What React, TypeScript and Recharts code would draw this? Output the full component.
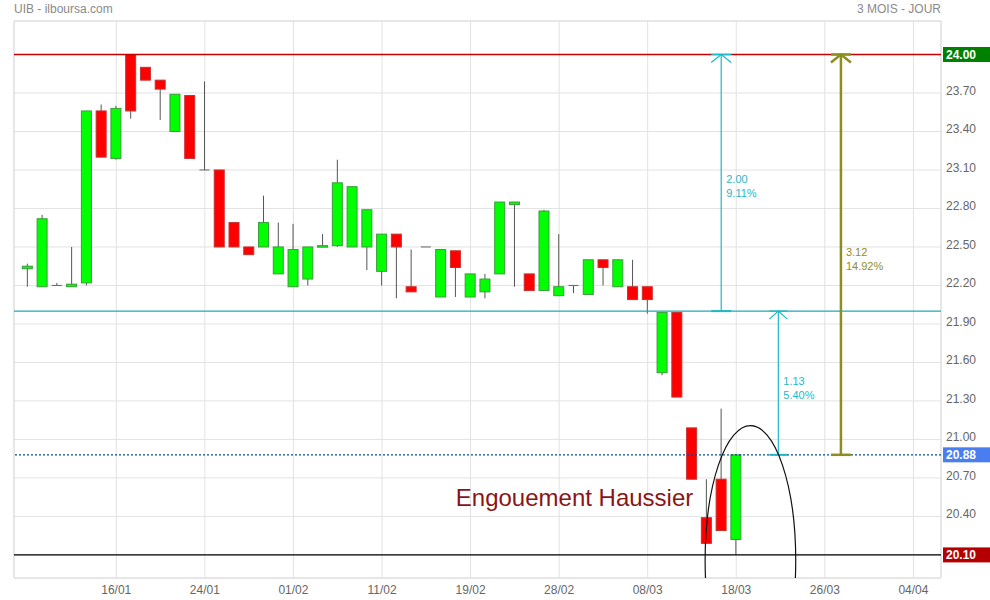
import React from 'react';
import {
  ComposedChart, Bar, XAxis, YAxis, CartesianGrid, ReferenceLine, ReferenceDot, ReferenceArea,
} from 'recharts';

// ---- data ----
const opens = [22.33, 22.19, 22.20, 22.19, 22.22, 23.56, 23.19, 24.00, 23.90, 23.80, 23.40, 23.68, 23.10, 23.10, 22.69, 22.50, 22.50, 22.29, 22.19, 22.25, 22.50, 22.51, 22.50, 22.50, 22.31, 22.60, 22.19, 22.50, 22.11, 22.47, 22.11, 22.15, 22.29, 22.83, 22.29, 22.16, 22.12, 22.20, 22.13, 22.40, 22.19, 22.19, 22.19, 21.52, 21.99, 21.09, 20.39, 20.69, 20.22];
const highs = [22.37, 22.75, 22.22, 22.50, 23.56, 23.61, 23.60, 24.00, 23.90, 23.80, 23.69, 23.68, 23.79, 23.10, 22.69, 22.50, 22.90, 22.69, 22.68, 22.50, 22.60, 23.18, 22.97, 22.79, 22.60, 22.60, 22.48, 22.50, 22.48, 22.47, 22.29, 22.29, 22.85, 22.85, 22.29, 22.79, 22.60, 22.20, 22.40, 22.40, 22.40, 22.40, 22.19, 21.99, 21.99, 21.09, 20.69, 21.24, 20.88];
const lows = [22.19, 22.19, 22.20, 22.19, 22.20, 23.20, 23.18, 23.50, 23.80, 23.49, 23.40, 23.19, 23.10, 22.50, 22.50, 22.44, 22.50, 22.29, 22.19, 22.20, 22.50, 22.50, 22.50, 22.32, 22.20, 22.10, 22.15, 22.50, 22.11, 22.11, 22.11, 22.10, 22.29, 22.19, 22.16, 22.16, 22.12, 22.14, 22.13, 22.20, 22.19, 22.09, 21.98, 21.50, 21.33, 20.69, 20.19, 20.29, 20.10];
const closes = [22.35, 22.72, 22.20, 22.21, 23.56, 23.20, 23.58, 23.56, 23.80, 23.73, 23.69, 23.19, 23.10, 22.50, 22.50, 22.44, 22.69, 22.50, 22.48, 22.50, 22.51, 23.00, 22.97, 22.79, 22.60, 22.50, 22.15, 22.50, 22.48, 22.34, 22.29, 22.25, 22.85, 22.85, 22.16, 22.78, 22.19, 22.20, 22.40, 22.34, 22.40, 22.09, 22.09, 21.99, 21.33, 20.69, 20.19, 20.29, 20.88];

const xTickPositions = [6, 12, 18, 24, 30, 36, 42, 48, 54, 60];
const xTickLabels = ['16/01', '24/01', '01/02', '11/02', '19/02', '28/02', '08/03', '18/03', '26/03', '04/04'];
const yTicks = [20.1, 20.4, 20.7, 21.0, 21.3, 21.6, 21.9, 22.2, 22.5, 22.8, 23.1, 23.4, 23.7, 24.0];

const resistance = 24.0;
const midLevel = 22.0;
const lastPrice = 20.88;
const support = 20.1;

// measurement arrows: x index, from, to, value label, pct label, label price
const arrow1 = { x: 46.98, from: 22.0, to: 24.0, v: '2.00', p: '9.11%', ly: 23.03 };
const arrow2 = { x: 50.85, from: 20.88, to: 22.0, v: '1.13', p: '5.40%', ly: 21.453 };
const arrow3 = { x: 55.09, from: 20.88, to: 24.0, v: '3.12', p: '14.92%', ly: 22.458 };

const ellipseCenter = { x: 48.96, y: 20.057 };
const patternLabel = { x: 29, y: 20.55, text: 'Engouement Haussier' };

const X_DOMAIN: [number, number] = [-0.93, 61.87];
const Y_DOMAIN: [number, number] = [19.92, 24.261];

const data = opens.map((o, i) => ({ i, open: o, high: highs[i], low: lows[i], close: closes[i] }));

const FONT = '"Liberation Sans", Arial, sans-serif';
const CYAN = '#1fb8c6';
const TEAL = '#1eaab2';
const OLIVE = '#8e8e1e';

const Candle = (props: any) => {
  const { x, y, width, height, payload } = props;
  if (x == null || y == null || !payload) return null;
  const { open, close, high, low } = payload;
  const cx = x + width / 2;
  const top = height < 0 ? y + height : y;
  const h = Math.abs(height || 0);
  const span = high - low;
  const py = (p: number) => (span > 0 ? top + ((high - p) / span) * h : top);
  const bw = 10;
  const yo = py(open);
  const yc = py(close);
  const wick = <line x1={cx} x2={cx} y1={py(high)} y2={py(low)} stroke="#555" strokeWidth={1} />;
  if (open === close) {
    return (
      <g>
        {wick}
        <line x1={cx - bw / 2} x2={cx + bw / 2} y1={yo} y2={yo} stroke="#666" strokeWidth={1} />
      </g>
    );
  }
  const up = close > open;
  const bt = Math.min(yo, yc);
  const bh = Math.max(Math.abs(yo - yc), 1.5);
  return (
    <g>
      {wick}
      <rect x={cx - bw / 2} y={bt} width={bw} height={bh}
        fill={up ? '#00ff00' : '#ff0000'} stroke={up ? '#3a9d3a' : '#c83030'} strokeWidth={1} />
    </g>
  );
};

const boxLabel = (text: string, color: string) => (props: any) => {
  const vb = props.viewBox || {};
  const bx = vb.x + vb.width + 2;
  const by = vb.y;
  return (
    <g>
      <rect x={bx} y={by - 7.5} width={48} height={15} fill={color} />
      <text x={bx + 3} y={by} dy="0.36em" fill="#fff" fontSize={12} fontWeight="bold" fontFamily={FONT}>{text}</text>
    </g>
  );
};

const topArrow = (color: string, sw: number, dx: number) => (props: any) => {
  const { cx, cy } = props;
  return (
    <g>
      <line x1={cx - dx} x2={cx + dx} y1={cy} y2={cy} stroke={color} strokeWidth={sw} />
      <polyline points={`${cx - dx},${cy + 8} ${cx},${cy} ${cx + dx},${cy + 8}`} fill="none" stroke={color} strokeWidth={sw} />
    </g>
  );
};

const bottomCap = (color: string, sw: number, dx: number) => (props: any) => {
  const { cx, cy } = props;
  return <line x1={cx - dx} x2={cx + dx} y1={cy} y2={cy} stroke={color} strokeWidth={sw} />;
};

const twoLineText = (a: string, b: string, color: string) => (props: any) => {
  const { cx, cy } = props;
  return (
    <g>
      <text x={cx + 5} y={cy} dy="0.36em" fill={color} fontSize={11} fontFamily={FONT}>{a}</text>
      <text x={cx + 5} y={cy + 14} dy="0.36em" fill={color} fontSize={11} fontFamily={FONT}>{b}</text>
    </g>
  );
};

const EllipseShape = (props: any) => {
  const { cx, cy } = props;
  return <ellipse cx={cx} cy={cy} rx={45.3} ry={134.7} fill="none" stroke="#111" strokeWidth={1.2} clipPath={props.clipPath} />;
};

const PatternText = (props: any) => {
  const { cx, cy } = props;
  return (
    <text x={cx} y={cy} dy="0.36em" fill="#8b1515" fontSize={24} fontFamily={FONT}>{patternLabel.text}</text>
  );
};

const YTick = (props: any) => {
  const { x, y, payload } = props;
  const v = payload.value;
  if (Math.abs(v - 20.1) < 1e-6 || Math.abs(v - 24.0) < 1e-6) return null;
  return (
    <text x={x} y={y - 2.5} dy="0.36em" fill="#666" fontSize={12} fontFamily={FONT} textAnchor="start">{v.toFixed(2)}</text>
  );
};

const XTick = (props: any) => {
  const { x, y, payload } = props;
  const idx = xTickPositions.indexOf(payload.value);
  return (
    <text x={x} y={y + 11.5} dy="0.36em" fill="#666" fontSize={12} fontFamily={FONT} textAnchor="middle">{idx >= 0 ? xTickLabels[idx] : ''}</text>
  );
};

export default function App() {
  const arrows = [
    { a: arrow1, color: CYAN, sw: 1.2, dx: 10 },
    { a: arrow2, color: CYAN, sw: 1.2, dx: 9 },
    { a: arrow3, color: OLIVE, sw: 2.5, dx: 10 },
  ];
  return (
    <div style={{ position: 'absolute', left: 0, top: 0, width: 990, height: 600, background: '#fff' }}>
      <div style={{ position: 'absolute', left: 14, top: 2, fontFamily: FONT, fontSize: 12, color: '#8a8a8a', lineHeight: '14px' }}>UIB - ilboursa.com</div>
      <div style={{ position: 'absolute', right: 49, top: 2, fontFamily: FONT, fontSize: 12, color: '#8a8a8a', lineHeight: '14px' }}>3 MOIS - JOUR</div>
      <ComposedChart width={990} height={600} data={data} margin={{ top: 21, right: 0, bottom: 0, left: 14 }}>
        <CartesianGrid stroke="#e2e2e2" />
        <XAxis dataKey="i" type="number" domain={X_DOMAIN} allowDataOverflow ticks={xTickPositions}
          tick={<XTick />} tickLine={false} axisLine={false} tickSize={0} tickMargin={0} height={22} interval={0} />
        <YAxis orientation="right" type="number" domain={Y_DOMAIN} allowDataOverflow ticks={yTicks}
          tick={<YTick />} tickLine={false} axisLine={false} tickSize={5} tickMargin={0} width={49} interval={0} />
        <ReferenceArea x1={X_DOMAIN[0]} x2={X_DOMAIN[1]} y1={Y_DOMAIN[0]} y2={Y_DOMAIN[1]} fill="none" stroke="#dcdcdc" ifOverflow="visible" />
        <ReferenceLine y={midLevel} stroke={TEAL} strokeWidth={1.2} />
        <Bar dataKey={(d: any) => [d.low, d.high]} barSize={10} shape={<Candle />} isAnimationActive={false} />
        <ReferenceLine y={resistance} stroke="#c40000" strokeWidth={1.5} label={boxLabel('24.00', '#008000')} />
        <ReferenceLine y={lastPrice} stroke="#0d4a8a" strokeWidth={1.2} strokeDasharray="2 2" label={boxLabel('20.88', '#4a7ef0')} />
        <ReferenceLine y={support} stroke="#000" strokeWidth={1.2} label={boxLabel('20.10', '#b40000')} />
        {arrows.map(({ a, color, sw }, k) => (
          <ReferenceLine key={`l${k}`} segment={[{ x: a.x, y: a.from }, { x: a.x, y: a.to }]} stroke={color} strokeWidth={sw} />
        ))}
        {arrows.map(({ a, color, sw, dx }, k) => (
          <ReferenceDot key={`t${k}`} x={a.x} y={a.to} r={1} shape={topArrow(color, sw, dx)} />
        ))}
        {arrows.map(({ a, color, sw, dx }, k) => (
          <ReferenceDot key={`b${k}`} x={a.x} y={a.from} r={1} shape={bottomCap(color, Math.max(sw, 2), dx)} />
        ))}
        {arrows.map(({ a, color }, k) => (
          <ReferenceDot key={`x${k}`} x={a.x} y={a.ly} r={1} shape={twoLineText(a.v, a.p, color)} />
        ))}
        <ReferenceDot x={ellipseCenter.x} y={ellipseCenter.y} r={1} ifOverflow="hidden" shape={<EllipseShape />} />
        <ReferenceDot x={patternLabel.x} y={patternLabel.y} r={1} shape={<PatternText />} />
      </ComposedChart>
    </div>
  );
}
